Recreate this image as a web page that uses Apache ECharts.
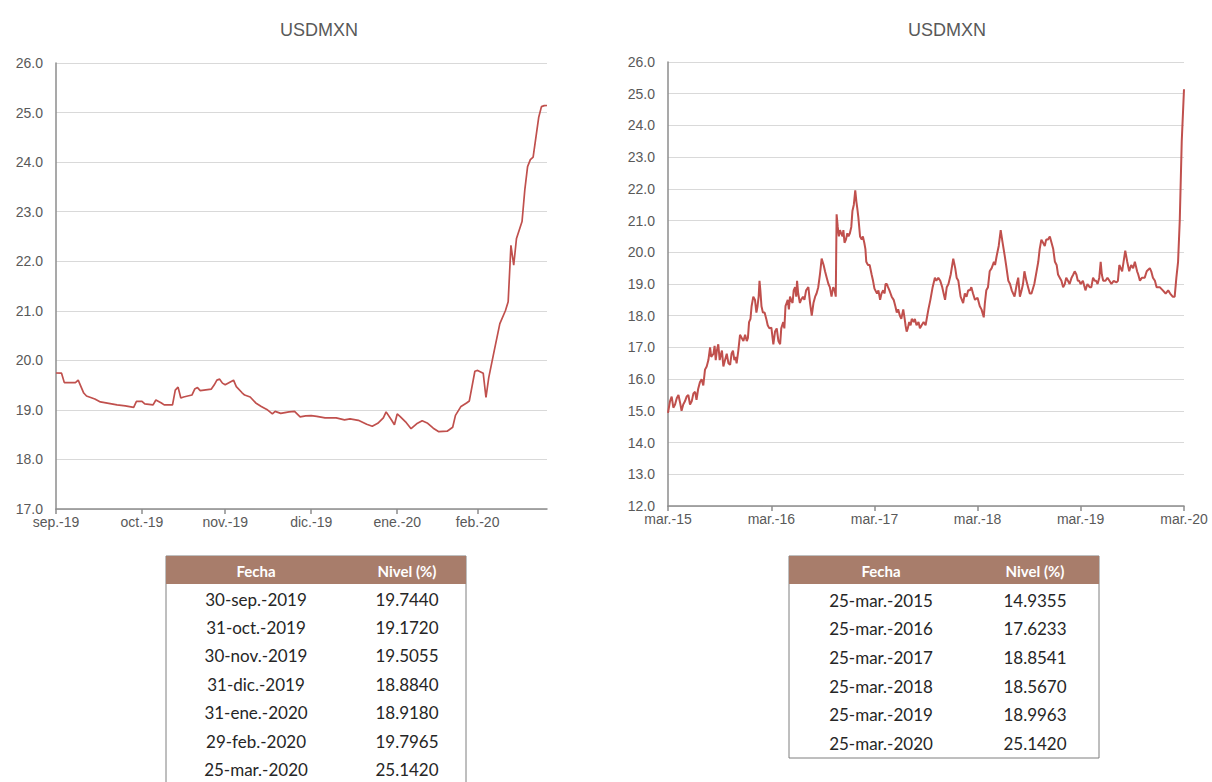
<!DOCTYPE html>
<html>
<head>
<meta charset="utf-8">
<script src="https://cdn.jsdelivr.net/npm/echarts@6/dist/echarts.min.js"></script>
<style>
  html, body { margin: 0; padding: 0; background: #ffffff; }
  #main { width: 1212px; height: 782px; }
</style>
</head>
<body>
<div id="main"></div>
<script>
// ---- USD/MXN exchange rate, six-month view (left) ----
const leftTickIso = ['2019-09-30', '2019-10-31', '2019-11-30', '2019-12-31', '2020-01-31', '2020-02-29'];
const leftTickLabels = ['sep.-19', 'oct.-19', 'nov.-19', 'dic.-19', 'ene.-20', 'feb.-20'];

const leftTableDates = ['30-sep.-2019', '31-oct.-2019', '30-nov.-2019', '31-dic.-2019', '31-ene.-2020', '29-feb.-2020', '25-mar.-2020'];
const leftTableIso = ['2019-09-30', '2019-10-31', '2019-11-30', '2019-12-31', '2020-01-31', '2020-02-29', '2020-03-25'];
const leftTableValues = [19.7440, 19.1720, 19.5055, 18.8840, 18.9180, 19.7965, 25.1420];

const leftRates = [
  ['2019-10-02', 19.74], ['2019-10-03', 19.55], ['2019-10-07', 19.55], ['2019-10-08', 19.60],
  ['2019-10-10', 19.34], ['2019-10-11', 19.28], ['2019-10-14', 19.22], ['2019-10-16', 19.16],
  ['2019-10-18', 19.14], ['2019-10-22', 19.10], ['2019-10-25', 19.08], ['2019-10-28', 19.05],
  ['2019-10-29', 19.17],
  ['2019-11-01', 19.12], ['2019-11-04', 19.10], ['2019-11-05', 19.20], ['2019-11-07', 19.14],
  ['2019-11-08', 19.10], ['2019-11-11', 19.10], ['2019-11-12', 19.40], ['2019-11-13', 19.46],
  ['2019-11-14', 19.24], ['2019-11-15', 19.26], ['2019-11-18', 19.30], ['2019-11-19', 19.42],
  ['2019-11-20', 19.45], ['2019-11-21', 19.39], ['2019-11-25', 19.42], ['2019-11-26', 19.50],
  ['2019-11-27', 19.60], ['2019-11-28', 19.62], ['2019-11-29', 19.54],
  ['2019-12-02', 19.57], ['2019-12-03', 19.60], ['2019-12-04', 19.47], ['2019-12-06', 19.35],
  ['2019-12-07', 19.30], ['2019-12-09', 19.26], ['2019-12-11', 19.14], ['2019-12-13', 19.07],
  ['2019-12-15', 19.01], ['2019-12-17', 18.92], ['2019-12-18', 18.97], ['2019-12-20', 18.93],
  ['2019-12-23', 18.96], ['2019-12-25', 18.97], ['2019-12-27', 18.86], ['2019-12-29', 18.88],
  ['2020-01-02', 18.87], ['2020-01-05', 18.84], ['2020-01-07', 18.84], ['2020-01-09', 18.84],
  ['2020-01-12', 18.80], ['2020-01-14', 18.82], ['2020-01-17', 18.79], ['2020-01-20', 18.71],
  ['2020-01-22', 18.67], ['2020-01-24', 18.73], ['2020-01-26', 18.84], ['2020-01-27', 18.96],
  ['2020-01-29', 18.79], ['2020-01-30', 18.70],
  ['2020-02-01', 18.87], ['2020-02-03', 18.76], ['2020-02-05', 18.62], ['2020-02-07', 18.72],
  ['2020-02-09', 18.78], ['2020-02-11', 18.73], ['2020-02-13', 18.63], ['2020-02-15', 18.56],
  ['2020-02-18', 18.57], ['2020-02-20', 18.65], ['2020-02-21', 18.89], ['2020-02-23', 19.07],
  ['2020-02-25', 19.14], ['2020-02-26', 19.18], ['2020-02-28', 19.78],
  ['2020-03-02', 19.74], ['2020-03-03', 19.25], ['2020-03-04', 19.65], ['2020-03-06', 20.20],
  ['2020-03-08', 20.74], ['2020-03-10', 21.00], ['2020-03-11', 21.18], ['2020-03-12', 22.32],
  ['2020-03-13', 21.92], ['2020-03-14', 22.46], ['2020-03-16', 22.80], ['2020-03-17', 23.44],
  ['2020-03-18', 23.91], ['2020-03-19', 24.05], ['2020-03-20', 24.10], ['2020-03-21', 24.50],
  ['2020-03-22', 24.90], ['2020-03-23', 25.12], ['2020-03-24', 25.14]
];

// ---- USD/MXN exchange rate, five-year view (right) ----
const rightTickIso = ['2015-03-25', '2016-03-25', '2017-03-25', '2018-03-25', '2019-03-25', '2020-03-25'];
const rightTickLabels = ['mar.-15', 'mar.-16', 'mar.-17', 'mar.-18', 'mar.-19', 'mar.-20'];

const rightTableDates = ['25-mar.-2015', '25-mar.-2016', '25-mar.-2017', '25-mar.-2018', '25-mar.-2019', '25-mar.-2020'];
const rightTableIso = ['2015-03-25', '2016-03-25', '2017-03-25', '2018-03-25', '2019-03-25', '2020-03-25'];
const rightTableValues = [14.9355, 17.6233, 18.8541, 18.5670, 18.9963, 25.1420];

const rightRates = [
  ['2015-04-01', 15.30], ['2015-04-07', 15.45], ['2015-04-13', 15.10], ['2015-04-19', 15.20],
  ['2015-04-25', 15.40], ['2015-05-01', 15.50], ['2015-05-07', 15.25], ['2015-05-12', 15.00],
  ['2015-05-18', 15.20], ['2015-05-24', 15.30], ['2015-05-30', 15.45], ['2015-06-05', 15.50],
  ['2015-06-11', 15.20], ['2015-06-17', 15.30], ['2015-06-23', 15.55], ['2015-06-29', 15.60],
  ['2015-07-04', 15.35], ['2015-07-10', 15.70], ['2015-07-16', 15.90], ['2015-07-22', 16.00],
  ['2015-07-28', 15.80], ['2015-08-03', 16.30], ['2015-08-09', 16.40], ['2015-08-15', 16.60],
  ['2015-08-21', 17.00], ['2015-08-25', 16.70], ['2015-09-02', 16.80], ['2015-09-06', 17.05],
  ['2015-09-10', 16.60], ['2015-09-14', 16.90], ['2015-09-19', 17.10], ['2015-09-24', 16.60],
  ['2015-09-29', 16.80], ['2015-10-02', 16.90], ['2015-10-07', 16.40], ['2015-10-13', 16.60],
  ['2015-10-19', 16.80], ['2015-10-25', 16.50], ['2015-10-31', 16.45], ['2015-11-05', 16.80],
  ['2015-11-10', 16.90], ['2015-11-15', 16.60], ['2015-11-19', 16.70], ['2015-11-23', 16.50],
  ['2015-11-29', 16.90], ['2015-12-05', 17.40], ['2015-12-11', 17.30], ['2015-12-17', 17.20],
  ['2015-12-23', 17.40], ['2015-12-29', 17.20], ['2016-01-02', 17.30], ['2016-01-06', 17.80],
  ['2016-01-11', 17.90], ['2016-01-15', 18.30], ['2016-01-21', 18.60], ['2016-01-27', 18.50],
  ['2016-02-01', 18.10], ['2016-02-05', 18.30], ['2016-02-09', 18.60], ['2016-02-12', 19.10],
  ['2016-02-15', 18.80], ['2016-02-19', 18.30], ['2016-02-24', 18.10], ['2016-03-01', 18.10],
  ['2016-03-07', 17.90], ['2016-03-12', 17.70], ['2016-03-18', 17.60],
  ['2016-04-01', 17.10], ['2016-04-07', 17.50], ['2016-04-13', 17.60], ['2016-04-19', 17.20],
  ['2016-04-25', 17.10], ['2016-04-29', 17.60], ['2016-05-06', 17.80], ['2016-05-10', 17.60],
  ['2016-05-14', 18.30], ['2016-05-18', 18.40], ['2016-05-22', 18.50], ['2016-05-26', 18.20],
  ['2016-05-30', 18.60], ['2016-06-03', 18.50], ['2016-06-08', 18.40], ['2016-06-12', 18.80],
  ['2016-06-17', 18.90], ['2016-06-21', 18.60], ['2016-06-24', 19.10], ['2016-06-28', 18.70],
  ['2016-07-04', 18.40], ['2016-07-08', 18.50], ['2016-07-15', 18.60], ['2016-07-20', 18.50],
  ['2016-07-26', 18.80], ['2016-08-03', 18.90], ['2016-08-09', 18.40], ['2016-08-15', 18.00],
  ['2016-08-21', 18.40], ['2016-08-27', 18.60], ['2016-09-01', 18.70], ['2016-09-07', 18.90],
  ['2016-09-13', 19.30], ['2016-09-19', 19.80], ['2016-09-26', 19.60], ['2016-10-01', 19.40],
  ['2016-10-07', 19.20], ['2016-10-13', 19.00], ['2016-10-18', 18.90], ['2016-10-24', 18.60],
  ['2016-10-30', 18.90], ['2016-11-04', 18.80], ['2016-11-08', 18.60], ['2016-11-11', 21.20],
  ['2016-11-15', 20.80], ['2016-11-19', 20.50], ['2016-11-23', 20.70], ['2016-11-27', 20.60],
  ['2016-12-02', 20.50], ['2016-12-05', 20.70], ['2016-12-09', 20.30], ['2016-12-14', 20.40],
  ['2016-12-19', 20.60], ['2016-12-23', 20.50], ['2016-12-28', 20.60], ['2017-01-02', 20.80],
  ['2017-01-06', 21.30], ['2017-01-11', 21.50], ['2017-01-16', 21.95], ['2017-01-20', 21.60],
  ['2017-01-23', 21.40], ['2017-01-27', 21.10], ['2017-02-02', 20.50], ['2017-02-08', 20.40],
  ['2017-02-12', 20.50], ['2017-02-17', 20.30], ['2017-02-21', 20.10], ['2017-02-24', 19.70],
  ['2017-03-02', 19.60], ['2017-03-08', 19.60], ['2017-03-15', 19.30], ['2017-03-20', 19.10],
  ['2017-04-03', 18.70], ['2017-04-08', 18.80], ['2017-04-14', 18.50], ['2017-04-19', 18.70],
  ['2017-04-25', 18.80], ['2017-04-30', 18.70], ['2017-05-03', 19.00], ['2017-05-08', 19.00],
  ['2017-05-12', 18.90], ['2017-05-17', 18.80], ['2017-05-21', 18.70], ['2017-05-25', 18.60],
  ['2017-06-01', 18.50], ['2017-06-07', 18.30], ['2017-06-12', 18.10], ['2017-06-17', 18.20],
  ['2017-06-23', 18.00], ['2017-06-28', 17.90], ['2017-07-05', 18.20], ['2017-07-10', 17.90],
  ['2017-07-13', 17.70], ['2017-07-17', 17.50], ['2017-07-21', 17.60], ['2017-07-26', 17.80],
  ['2017-07-31', 17.70], ['2017-08-04', 17.90], ['2017-08-11', 17.80], ['2017-08-15', 17.90],
  ['2017-08-21', 17.70], ['2017-08-28', 17.80], ['2017-09-02', 17.60], ['2017-09-08', 17.70],
  ['2017-09-15', 17.80], ['2017-09-22', 17.70], ['2017-10-02', 18.20], ['2017-10-09', 18.50],
  ['2017-10-17', 18.90], ['2017-10-25', 19.20], ['2017-10-30', 19.10], ['2017-11-06', 19.20],
  ['2017-11-13', 19.10], ['2017-11-20', 18.90], ['2017-11-30', 18.50], ['2017-12-06', 18.90],
  ['2017-12-12', 19.00], ['2017-12-20', 19.30], ['2017-12-29', 19.80], ['2018-01-05', 19.50],
  ['2018-01-10', 19.20], ['2018-01-16', 19.10], ['2018-01-24', 18.60], ['2018-02-02', 18.40],
  ['2018-02-08', 18.70], ['2018-02-14', 18.60], ['2018-02-20', 18.80], ['2018-02-26', 18.80],
  ['2018-03-03', 18.90], ['2018-03-09', 18.70], ['2018-03-16', 18.50],
  ['2018-04-02', 18.30], ['2018-04-08', 18.20], ['2018-04-16', 17.95], ['2018-04-20', 18.40],
  ['2018-04-25', 18.80], ['2018-05-01', 18.90], ['2018-05-07', 19.40], ['2018-05-14', 19.50],
  ['2018-05-22', 19.70], ['2018-05-26', 19.60], ['2018-06-01', 19.90], ['2018-06-08', 20.20],
  ['2018-06-15', 20.70], ['2018-06-20', 20.40], ['2018-06-29', 19.90], ['2018-07-04', 19.60],
  ['2018-07-12', 19.10], ['2018-07-18', 19.00], ['2018-07-24', 18.80], ['2018-08-03', 18.60],
  ['2018-08-11', 19.00], ['2018-08-16', 19.20], ['2018-08-22', 18.60], ['2018-08-28', 18.80],
  ['2018-09-02', 19.00], ['2018-09-07', 19.40], ['2018-09-14', 19.10], ['2018-09-20', 18.90],
  ['2018-09-26', 18.70], ['2018-10-02', 18.70], ['2018-10-12', 19.00], ['2018-10-20', 19.40],
  ['2018-10-26', 19.70], ['2018-10-31', 20.10], ['2018-11-06', 20.40], ['2018-11-12', 20.30],
  ['2018-11-18', 20.20], ['2018-11-23', 20.40], ['2018-11-29', 20.40], ['2018-12-06', 20.50],
  ['2018-12-12', 20.30], ['2018-12-18', 20.10], ['2018-12-24', 19.70], ['2018-12-30', 19.60],
  ['2019-01-04', 19.30], ['2019-01-10', 19.20], ['2019-01-16', 19.10], ['2019-01-22', 18.90],
  ['2019-01-28', 19.00], ['2019-02-02', 19.20], ['2019-02-08', 19.10], ['2019-02-14', 19.00],
  ['2019-02-21', 19.20], ['2019-02-27', 19.30], ['2019-03-04', 19.40], ['2019-03-10', 19.30],
  ['2019-03-15', 19.10], ['2019-03-20', 19.10],
  ['2019-04-02', 19.10], ['2019-04-11', 18.80], ['2019-04-18', 19.00], ['2019-04-26', 18.90],
  ['2019-05-02', 18.90], ['2019-05-08', 19.20], ['2019-05-14', 19.10], ['2019-05-19', 19.10],
  ['2019-05-24', 19.00], ['2019-05-30', 19.20], ['2019-06-04', 19.70], ['2019-06-08', 19.30],
  ['2019-06-13', 19.10], ['2019-06-21', 19.10], ['2019-06-28', 19.20], ['2019-07-05', 19.10],
  ['2019-07-12', 19.00], ['2019-07-20', 19.10], ['2019-07-30', 19.05], ['2019-08-04', 19.10],
  ['2019-08-09', 19.60], ['2019-08-19', 19.40], ['2019-08-24', 19.70], ['2019-08-30', 20.05],
  ['2019-09-06', 19.70], ['2019-09-13', 19.40], ['2019-09-20', 19.60], ['2019-09-27', 19.50],
  ['2019-10-03', 19.70], ['2019-10-11', 19.40], ['2019-10-15', 19.30], ['2019-10-21', 19.10],
  ['2019-10-28', 19.20], ['2019-11-07', 19.20], ['2019-11-14', 19.40], ['2019-11-25', 19.50],
  ['2019-11-30', 19.40], ['2019-12-06', 19.20], ['2019-12-13', 19.10], ['2019-12-19', 18.90],
  ['2019-12-30', 18.90], ['2020-01-10', 18.80], ['2020-01-20', 18.70], ['2020-01-29', 18.80],
  ['2020-02-05', 18.70], ['2020-02-14', 18.60], ['2020-02-21', 18.60], ['2020-02-27', 19.20],
  ['2020-03-04', 19.70], ['2020-03-10', 21.00], ['2020-03-17', 23.50]
];

// ---- helpers ----
function toTs(iso) {
  const [y, m, d] = iso.split('-').map(Number);
  return new Date(y, m - 1, d).getTime();
}
// Series = readings plus the dated table levels, in time order.
function buildSeries(rates, tableIso, tableValues) {
  const pts = rates.concat(tableIso.map((d, i) => [d, tableValues[i]]));
  return pts.map(p => [toTs(p[0]), p[1]]).sort((a, b) => a[0] - b[0]);
}
function labelFor(ticksTs, labels) {
  return function (v) {
    let best = 0;
    for (let i = 1; i < ticksTs.length; i++) {
      if (Math.abs(ticksTs[i] - v) < Math.abs(ticksTs[best] - v)) best = i;
    }
    return labels[best];
  };
}

const leftTicksTs = leftTickIso.map(toTs);
const rightTicksTs = rightTickIso.map(toTs);

const AXIS_GREY = '#8c8c8c';
const GRID_GREY = '#d9d9d9';
const TEXT_GREY = '#595959';
const LINE_RED = '#c0504d';
const HEADER_BROWN = '#a87d6b';
const AXIS_FONT = 'Liberation Sans';
const TABLE_FONT = 'Lato';

// Date axes are value axes over timestamps, with labels and ticks at chosen dates.
function xAxisFor(ticksTs, labels, min, max, gridIndex) {
  return {
    type: 'value', gridIndex: gridIndex, min: min, max: max, scale: true,
    axisLine: { show: true, onZero: false, lineStyle: { color: AXIS_GREY, width: 1.5 } },
    axisTick: { show: true, customValues: ticksTs, length: 5, lineStyle: { color: AXIS_GREY, width: 1.5 } },
    axisLabel: {
      customValues: ticksTs, formatter: labelFor(ticksTs, labels),
      color: TEXT_GREY, fontFamily: AXIS_FONT, fontSize: 14, margin: 6,
      showMinLabel: true, showMaxLabel: true, hideOverlap: false
    },
    splitLine: { show: false }
  };
}
function yAxisFor(min, max, gridIndex) {
  return {
    type: 'value', gridIndex: gridIndex, min: min, max: max, interval: 1,
    axisLine: { show: true, lineStyle: { color: AXIS_GREY, width: 1.5 } },
    axisTick: { show: false },
    axisLabel: { formatter: v => v.toFixed(1), color: TEXT_GREY, fontFamily: AXIS_FONT, fontSize: 14, margin: 13 },
    splitLine: { show: true, lineStyle: { color: GRID_GREY, width: 1 } }
  };
}

// Tables drawn as graphic elements built from the table arrays.
function buildTable(box, dates, values) {
  const els = [];
  els.push({
    type: 'rect', shape: { x: box.x, y: box.y, width: box.w, height: box.h },
    style: { fill: '#ffffff', stroke: '#7f7f7f', lineWidth: 1 }, z: 10
  });
  els.push({
    type: 'rect', shape: { x: box.x, y: box.y, width: box.w, height: box.headerH },
    style: { fill: HEADER_BROWN }, z: 11
  });
  const headers = ['Fecha', 'Nivel (%)'];
  headers.forEach((h, i) => {
    els.push({
      type: 'text', x: box.cols[i], y: box.y + box.headerH / 2 + 1, z: 12,
      style: { text: h, fill: '#ffffff', font: 'bold 15px ' + TABLE_FONT, align: 'center', verticalAlign: 'middle' }
    });
  });
  dates.forEach((d, r) => {
    const cy = box.firstRowY + r * box.rowH;
    els.push({
      type: 'text', x: box.cols[0], y: cy, z: 12,
      style: { text: d, fill: '#262626', font: '17px ' + TABLE_FONT, align: 'center', verticalAlign: 'middle' }
    });
    els.push({
      type: 'text', x: box.cols[1], y: cy, z: 12,
      style: { text: values[r].toFixed(4), fill: '#262626', font: '17px ' + TABLE_FONT, align: 'center', verticalAlign: 'middle' }
    });
  });
  return els;
}

const chart = echarts.init(document.getElementById('main'), null, { renderer: 'svg', width: 1212, height: 782 });

chart.setOption({
  animation: false,
  backgroundColor: '#ffffff',
  title: [
    { text: 'USDMXN', left: 314, top: 16, textAlign: 'center',
      textStyle: { color: TEXT_GREY, fontFamily: AXIS_FONT, fontWeight: 'normal', fontSize: 18 } },
    { text: 'USDMXN', left: 942, top: 16, textAlign: 'center',
      textStyle: { color: TEXT_GREY, fontFamily: AXIS_FONT, fontWeight: 'normal', fontSize: 18 } }
  ],
  grid: [
    { left: 56, top: 63, width: 491, height: 446 },
    { left: 668, top: 62, width: 516, height: 444 }
  ],
  xAxis: [
    xAxisFor(leftTicksTs, leftTickLabels, toTs('2019-09-30'), toTs('2020-03-25'), 0),
    xAxisFor(rightTicksTs, rightTickLabels, toTs('2015-03-25'), toTs('2020-03-25'), 1)
  ],
  yAxis: [
    yAxisFor(17, 26, 0),
    yAxisFor(12, 26, 1)
  ],
  series: [
    { type: 'line', name: 'USDMXN', xAxisIndex: 0, yAxisIndex: 0, showSymbol: false,
      data: buildSeries(leftRates, leftTableIso, leftTableValues),
      lineStyle: { color: LINE_RED, width: 1.7 }, itemStyle: { color: LINE_RED } },
    { type: 'line', name: 'USDMXN', xAxisIndex: 1, yAxisIndex: 1, showSymbol: false,
      data: buildSeries(rightRates, rightTableIso, rightTableValues),
      lineStyle: { color: LINE_RED, width: 2 }, itemStyle: { color: LINE_RED } }
  ],
  graphic: buildTable(
      { x: 166, y: 556, w: 300, h: 240, headerH: 28, cols: [256, 407], firstRowY: 599, rowH: 28.4 },
      leftTableDates, leftTableValues)
    .concat(buildTable(
      { x: 789, y: 556, w: 310, h: 202, headerH: 28, cols: [881, 1035], firstRowY: 600, rowH: 28.7 },
      rightTableDates, rightTableValues))
});
</script>
</body>
</html>
